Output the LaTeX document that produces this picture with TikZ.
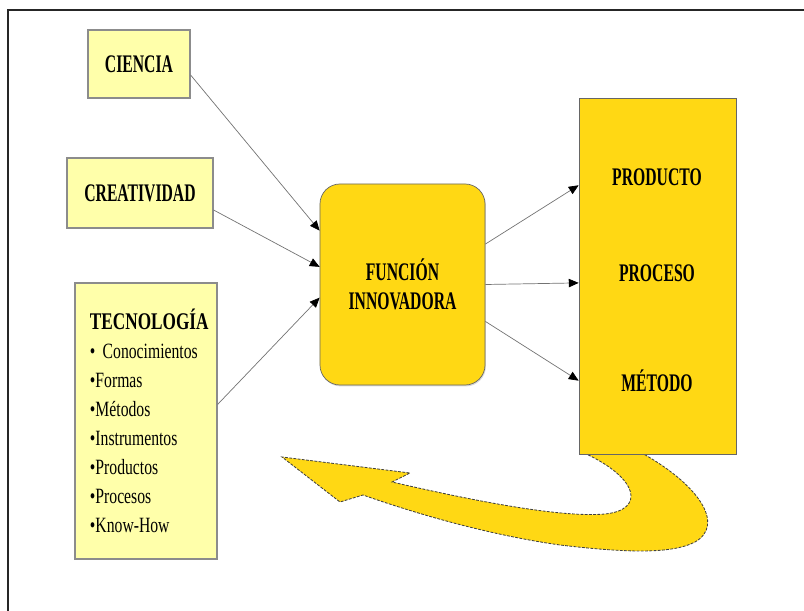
\documentclass[tikz,border=0pt]{standalone}
\usepackage{fontspec}
\setmainfont{Liberation Serif}
\newfontfamily\narrowfont[FakeStretch=0.62]{Liberation Serif}
\newfontfamily\listfont[FakeStretch=0.72]{Liberation Serif}
\usetikzlibrary{arrows.meta,shadows}
\definecolor{paleyellow}{RGB}{255,255,170}
\definecolor{goldyellow}{RGB}{255,216,20}

\begin{document}
\begin{tikzpicture}[x=0.025cm,y=-0.025cm,
    inbox/.style={draw=black!45,fill=paleyellow,line width=0.8pt,
        drop shadow={opacity=0.2,shadow xshift=0.8pt,shadow yshift=-1pt},
        font=\narrowfont\bfseries\fontsize{18}{21}\selectfont},
    goldbox/.style={draw=black!60,fill=goldyellow,line width=0.5pt,
        drop shadow={opacity=0.3,shadow xshift=0.6pt,shadow yshift=-1pt},
        font=\narrowfont\bfseries\fontsize{18}{21}\selectfont},
    conn/.style={draw=black!55,line width=0.5pt,
        -{Triangle[length=7pt,width=6pt,color=black]}}]

    % Page size and frame
    \useasboundingbox (0,0) rectangle (804,611);
    \draw[line width=1.8pt,black!85] (8,611) -- (8,10) -- (804,10);

    % Input boxes
    \node[inbox,minimum width=2.55cm,minimum height=1.7cm] (ciencia) at (139,64) {CIENCIA};
    \node[inbox,minimum width=3.65cm,minimum height=1.75cm] (creatividad) at (140,193) {CREATIVIDAD};
    \node[inbox,text width=2.8cm,inner xsep=0.375cm,minimum height=6.9cm,align=left,
        font=\listfont\fontsize{15.5}{20.6}\selectfont] (tecnologia) at (146,421)
        {{\fontsize{17}{20.6}\selectfont\bfseries TECNOLOGÍA}\\ • Conocimientos\\ •Formas\\
         •Métodos\\ •Instrumentos\\ •Productos\\ •Procesos\\ •Know-How};

    % Central box
    \node[goldbox,rounded corners=0.5cm,minimum width=4.125cm,minimum height=5.025cm,
        align=center] (funcion) at (402.5,284.5) {FUNCIÓN\\INNOVADORA};

    % Feedback arrow (drawn under the output box)
    \filldraw[fill=goldyellow,draw=black!75,line width=0.6pt,dash pattern=on 2pt off 1pt]
        (582,452) -- (640,452)
        .. controls (700,485) and (725,525) .. (695,542)
        .. controls (670,555) and (620,552) .. (560,545)
        .. controls (490,535) and (420,515) .. (363,495)
        -- (340,502) -- (282,457) -- (410,473) -- (392,482)
        .. controls (470,500) and (560,518) .. (605,514)
        .. controls (645,510) and (640,478) .. (582,452) -- cycle;

    % Output box
    \node[goldbox,minimum width=3.925cm,minimum height=8.9cm] (salida) at (657.5,276) {};
    \node[font=\narrowfont\bfseries\fontsize{18}{21}\selectfont] (producto) at (657,177) {PRODUCTO};
    \node[font=\narrowfont\bfseries\fontsize{18}{21}\selectfont] (proceso) at (657,273) {PROCESO};
    \node[font=\narrowfont\bfseries\fontsize{18}{21}\selectfont] (metodo) at (657,381) {MÉTODO};

    % Connectors
    \draw[conn] (ciencia.-12) -- (funcion.147);
    \draw[conn] (creatividad.-13) -- (funcion.168);
    \draw[conn] (tecnologia.13) -- (funcion.189);
    \draw[conn] (funcion.26) -- (salida.131);
    \draw[conn] (funcion.east) -- (salida.185);
    \draw[conn] (funcion.-24) -- (salida.233.5);

\end{tikzpicture}
\end{document}
